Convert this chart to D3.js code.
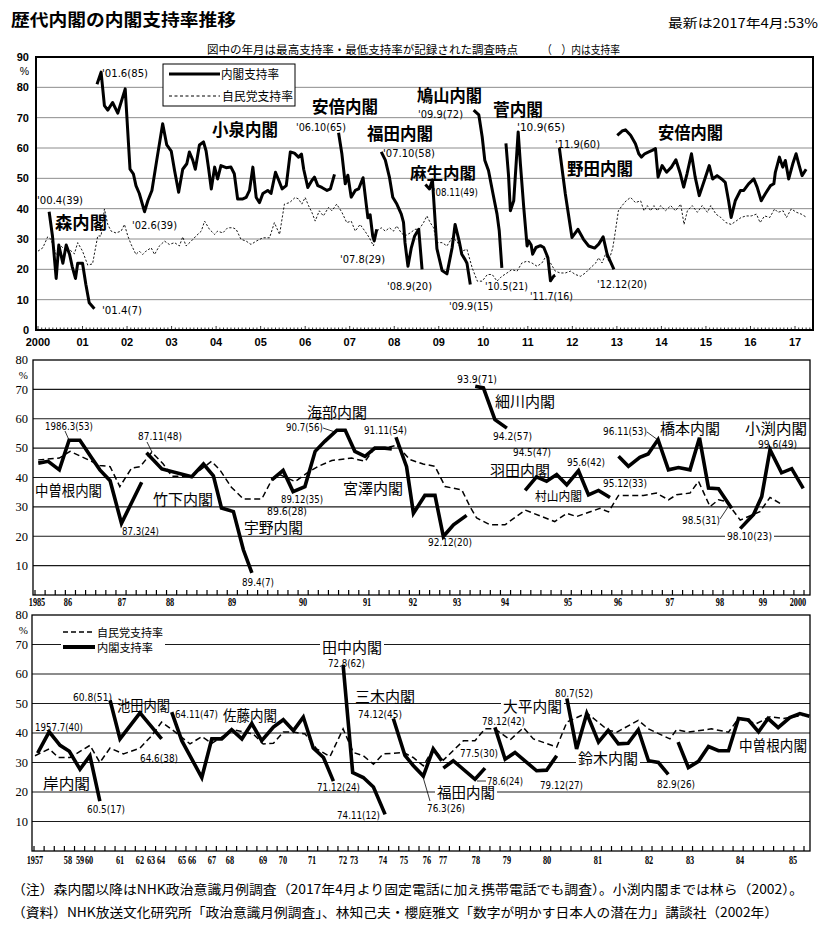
<!DOCTYPE html>
<html><head><meta charset="utf-8">
<script src="https://cdn.jsdelivr.net/npm/d3@7"></script>
<style>body{margin:0;background:#fff}</style>
</head><body>
<svg id="c" width="832" height="925"></svg>
<script>
// ================= DATA =================
// --- Top panel (2000-2017), x = months since Jan 2000, y = support %
const topYearLabels = ["2000","01","02","03","04","05","06","07","08","09","10","11","12","13","14","15","16","17"];
const topYTicks = [0,10,20,30,40,50,60,70,80,90];
const mori = [[3,39],[3.9,31],[4.9,17],[5.6,28],[6.7,22],[7.6,28],[8.5,25],[9.2,21],[10.1,17],[10.7,22],[12,22],[12.9,15],[13.8,9],[15.2,7]];
const koizumi = [[15.9,81],[17,85],[17.9,74],[18.8,72.5],[20.1,75],[21.5,71.5],[23.5,79.5],[24.8,53],[25.7,51.5],[26.4,47.6],[27.3,45],[28.7,39],[29.6,42.6],[30.7,46],[32,56],[33.6,68],[34.7,61],[35.9,59],[36.8,52.6],[37.9,45.4],[39,53],[40.1,54.8],[40.8,58.7],[41.7,56],[42.4,53],[43.5,61],[44.6,62],[45.3,59],[46,53],[46.7,46.5],[47.6,53.7],[48.4,49.8],[49.3,54.2],[50.7,53.5],[52,53.7],[52.9,51.5],[53.8,43.2],[55.2,43.2],[56.1,43.7],[57,46],[57.9,53.7],[58.8,43.7],[59.7,42],[60.6,45],[61.9,46],[62.8,45],[64,52],[64.9,49.3],[65.8,46.5],[66.9,47.6],[68,58.7],[69.1,58.3],[70.2,57],[71,58],[71.6,53],[72.7,47],[73.8,49.3],[74.5,50.4],[75.4,47.6],[76.5,47],[77.9,46],[78.8,46.5],[79.9,51.3]];
const abe1 = [[81,65],[81.9,58],[82.8,48.2],[83.5,51],[84.4,43.8],[85.5,46],[86.4,46.5],[87.6,50.2],[88.4,42],[88.9,37],[89.5,38],[90.2,31],[90.6,29.4],[91.3,33.2]];
const fukuda = [[92.5,58.7],[93.6,56],[94.7,50.4],[95.6,43.8],[96.7,41.5],[97.9,38.2],[98.5,35.5],[98.9,28.8],[99.7,21],[100.6,27.1],[101.5,31],[102.6,33.2],[103.5,20]];
const aso = [[104.4,48],[105.5,46.5],[106.3,49.5],[107.5,26.8],[108.9,19.6],[110.2,18.5],[111.6,27.1],[112.4,34.8],[113.5,29.3],[114.2,25],[115.1,23.2],[115.6,22],[116.5,15]];
const hatoyama = [[117.4,72.5],[118.8,70.9],[119.7,63.7],[120.4,56],[121.4,52.6],[122.6,45],[123.7,38.2],[124.3,32.7],[125,20.5]];
const kan = [[126.1,61.5],[126.8,51],[127.3,39.3],[128.2,42.6],[129.4,65.3],[130,54.8],[130.9,40.4],[131.8,27.7],[132.2,29.4],[132.9,28],[133.3,25],[134.2,27.2],[135.4,27.8],[136.3,27.2],[137.4,23.9],[138.1,16.2],[139,17.8],[139.4,18]];
const noda = [[140.5,60],[142.1,44.9],[143.9,30.5],[145.5,33.2],[147,29.9],[148.4,27.7],[150,27],[151.1,28.3],[152.3,30.7],[153.4,24.9],[155.2,20]];
const abe2 = [[156.1,64.2],[157.4,65.6],[158.3,66],[159.7,64.2],[161,61.4],[161.9,58.1],[162.6,57],[163.5,58.1],[164.6,58.7],[165.5,59.2],[166.4,59.8],[167.1,50.4],[168.2,54.2],[169.4,52],[170.7,53.7],[171.9,56.1],[173.1,51.5],[174,47.1],[174.9,51.5],[176.1,58.1],[177.1,50.4],[178.2,44.3],[179.7,49.8],[180.9,54.2],[181.8,49.8],[183,50.9],[184.2,49.8],[185.2,48.7],[186.1,42.6],[186.8,37.1],[187.9,42.6],[189.3,46],[190.2,46],[191.5,48.2],[192.9,49.8],[193.8,47.1],[194.9,42.6],[196,44.9],[197.4,47.6],[198.3,48.2],[198.7,52],[199.8,57],[200.7,53.7],[201.4,55.9],[202.3,49.8],[203.4,54.8],[204.3,58.1],[205,54.8],[205.9,50.9],[207,53]];
const ldpTop = [[0,26],[1.3,27.1],[2.6,30.7],[3.5,29.9],[4.9,24.9],[6.2,27.7],[7.6,26],[8.4,26.6],[9.8,25.1],[10.7,28.8],[12,26],[13.4,21.4],[14.7,21.8],[16.1,31],[17,31],[17.9,39.9],[18.8,34.8],[19.7,32.6],[21,32],[22.4,32.6],[23.3,34.8],[24.2,31],[25.1,28.2],[26.4,24.9],[27.3,26],[28.2,24.9],[29.1,26],[30.5,27.1],[31.4,24.9],[32.7,27.7],[34.1,29.3],[35.4,28.2],[36.8,28.8],[38.1,27.7],[39,30.7],[39.9,27.7],[41.3,29.3],[42.6,31],[44,32.6],[44.9,35.9],[46.2,33.2],[47.6,31.5],[48.4,32.6],[49.8,32],[51.1,33.7],[52.5,33.7],[53.4,33.2],[54.7,29.9],[56.1,29.3],[57.4,28.2],[58.8,29.3],[60.6,30.4],[62.4,30.4],[63.7,35.4],[65.1,31.5],[66.4,41.5],[67.8,42],[69.3,43.7],[70.2,43.2],[71.1,41.5],[72,43.7],[72.9,41],[73.8,38.8],[74.7,35.9],[75.8,39.3],[76.9,37.6],[78.3,40.4],[79.2,39.3],[80.5,41.5],[81.9,38.8],[83.2,35.4],[84.4,35.9],[85.5,32.6],[86.8,34.8],[88.1,32.6],[89.3,30.4],[90.4,27.7],[91.3,32.6],[92.5,33.7],[93.6,32.6],[94.7,33.7],[95.8,32.6],[96.7,34.3],[97.9,32],[98.9,31],[100.3,32],[101.6,33.2],[102.7,33.2],[103.9,35.4],[104.8,37.6],[105.7,35.4],[106.6,33.7],[107.5,28.8],[108.9,28.8],[110.2,27.7],[111.6,30.4],[112.9,29.3],[114.2,26],[115.6,26.6],[117,20.5],[118.4,16.1],[119.7,16.1],[121.1,18.3],[122.4,18.3],[123.7,16.1],[125,17.7],[126.4,18.8],[127.7,19.9],[129.1,19.4],[130.4,22.1],[131.8,22.7],[133.1,22.1],[134.5,21],[135.8,22.1],[136.9,24.3],[138.1,22.1],[139.4,19.4],[140.7,18.8],[142.1,18.8],[143.5,19.4],[144.8,18.3],[146.2,17.7],[147.5,18.8],[148.9,20.5],[150.3,22.1],[151.1,23.8],[152,22.1],[152.9,24.9],[153.8,22.7],[154.9,27.1],[155.6,32.6],[156.4,39.3],[157.4,41],[158.5,42.6],[159.7,43.7],[161,42],[162.4,42.6],[163.3,39.3],[164.2,41],[165.1,39.3],[166,41],[166.9,39.3],[167.8,41],[169.1,39.3],[170.5,41],[171.8,39.3],[173.2,41.5],[174.1,34.8],[175,39.3],[176.3,41],[177.7,38.8],[179,41],[180.4,38.8],[181.3,41],[182.7,38.2],[184,37.1],[185.4,35.4],[186.8,34.8],[188.1,35.9],[189.5,37.1],[190.8,37.6],[192.2,37.6],[193.6,38.2],[194.6,35.4],[195.8,37.6],[197.2,37.1],[198.5,39.9],[199.4,38.8],[200.8,39.3],[201.7,37.1],[203,39.9],[204.4,38.8],[205.7,38.2],[206.9,37.3]];

// --- Middle panel (1985-2000), x = year (decimal), y = %
const midYears = [1985,1986,1987,1988,1989,1990,1991,1992,1993,1994,1995,1996,1997,1998,1999,2000];
const midYearLabels = ["1985","86","87","88","89","90","91","92","93","94","95","96","97","98","99","2000"];
const panelYTicks = [10,20,30,40,50,60,70,80];
const nakasoneM = [[1985.04,44.9],[1985.36,45.5],[1985.72,42.6],[1986.02,52.7],[1986.22,52.7],[1986.44,46.6],[1986.59,42.6],[1986.78,38.9],[1986.99,24.4],[1987.41,38.4]];
const takeshita = [[1987.51,48.4],[1987.83,42.9],[1988.35,40.3],[1988.54,44.6],[1988.70,40.6],[1988.83,29.6],[1989.02,28.4],[1989.16,15.4],[1989.28,7.5]];
const unoKaifu = [[1989.56,39.2],[1989.72,42.4],[1989.86,35.2],[1990.03,36.9],[1990.19,48.9],[1990.34,52.3],[1990.53,56.1],[1990.66,56.1],[1990.81,48.9],[1990.97,47.2],[1991.17,50],[1991.39,50],[1991.54,49.7]];
const miyazawa = [[1991.63,53.7],[1991.86,43.7],[1992.01,27.8],[1992.27,33.9],[1992.50,33.9],[1992.69,19.9],[1992.92,23.9],[1993.20,27.1]];
const hosokawa = [[1993.38,71.1],[1993.55,70.5],[1993.79,59.7],[1994.03,56.8]];
const hataMurayama = [[1994.32,35.6],[1994.50,40.2],[1994.66,38.7],[1994.82,41],[1994.98,37.5],[1995.21,42.3],[1995.41,34.1],[1995.61,35.6],[1995.84,33.2]];
const hashimoto = [[1996.01,47.2],[1996.20,43.8],[1996.42,46.9],[1996.58,48],[1996.77,52.9],[1996.97,42.6],[1997.17,43.4],[1997.40,42.6],[1997.59,53.5],[1997.77,36.4],[1997.97,36.2],[1998.27,29.5]];
const obuchi = [[1998.47,22.6],[1998.78,27.4],[1998.97,33.5],[1999.20,49.5],[1999.53,41.6],[1999.82,43],[2000.15,36.3]];
const ldpMid = [[1985.04,46],[1985.72,46.6],[1986.04,48.9],[1986.38,46],[1986.59,44.1],[1986.78,43.7],[1986.96,36.9],[1987.2,43.2],[1987.38,43.7],[1987.62,48.6],[1987.86,44.6],[1988.03,40.4],[1988.35,40.4],[1988.67,45.5],[1988.81,42.4],[1988.99,36.7],[1989.16,32.7],[1989.42,32.7],[1989.56,39.2],[1989.68,40.9],[1989.89,38.6],[1990.06,41.5],[1990.24,43.8],[1990.45,45.8],[1990.76,46.6],[1990.97,45.5],[1991.14,49.5],[1991.43,50.1],[1991.65,51],[1991.93,46.1],[1992.23,44.6],[1992.50,43.8],[1992.73,36.9],[1993.10,35.8],[1993.27,30.1],[1993.41,26.2],[1993.69,23.9],[1994.0,23.9],[1994.32,28.9],[1994.79,25],[1994.98,27.8],[1995.17,26.7],[1995.64,29.5],[1995.81,28.3],[1996.01,33.9],[1996.49,33.9],[1996.74,34.7],[1996.97,32.4],[1997.13,34.1],[1997.40,34.7],[1997.57,38.7],[1997.8,30.1],[1997.97,32.4],[1998.15,31.8],[1998.47,25.5],[1998.93,28.4],[1999.20,33.2],[1999.49,31.2]];

// --- Bottom panel (1957-1985)
const botYears = [1957,1958,1959,1960,1961,1962,1963,1964,1965,1966,1967,1968,1969,1970,1971,1972,1973,1974,1975,1976,1977,1978,1979,1980,1981,1982,1983,1984,1985];
const botYearLabels = ["1957","58","59","60","61","62","63","64","65","66","67","68","69","70","71","72","73","74","75","76","77","78","79","80","81","82","83","84","85"];
const kishi = [[1957.08,33.2],[1957.43,40.4],[1957.76,35.8],[1958.11,33.8],[1959.0,27.7],[1960.03,32.3],[1960.35,16.9]];
const ikeda = [[1960.68,51.1],[1961.0,38],[1962.0,46.8],[1964.03,38]];
const sato = [[1964.51,47.1],[1964.99,37.4],[1966.49,24.9],[1966.99,38],[1967.54,38],[1968.05,41.1],[1968.36,38],[1968.66,43.2],[1968.96,37.4],[1969.52,42],[1970.01,44.5],[1970.36,40.8],[1970.70,45.4],[1971.04,34.9],[1971.37,31.7],[1971.69,23.7]];
const tanaka = [[1972.01,63.1],[1972.88,26.6],[1973.32,24.9],[1973.67,21.7],[1974.10,12.4]];
const miki = [[1974.49,44.9],[1975.04,32.4],[1975.40,29],[1975.84,25.4],[1976.39,34.6],[1976.92,30.6]];
const fukudaT = [[1977.01,28.1],[1977.31,30.6],[1977.97,24.3],[1978.29,28.1]];
const ohira = [[1978.61,41.9],[1978.94,31.1],[1979.2,33.4],[1979.74,27.2],[1979.99,27.4],[1980.19,32.3]];
const suzuki = [[1980.39,51.7],[1980.58,34.6],[1980.78,46.6],[1981.01,36.9],[1981.2,40.9],[1981.40,36.3],[1981.59,36.5],[1981.79,41.1],[1981.99,30.6],[1982.23,30],[1982.47,26]];
const nakasoneB = [[1982.71,36.9],[1982.96,28.3],[1983.17,30.4],[1983.37,35.4],[1983.57,34],[1983.77,34],[1983.97,44.9],[1984.16,44.4],[1984.35,40.4],[1984.53,44.9],[1984.72,41.8],[1984.94,45.2],[1985.13,46.6],[1985.31,45.7]];
const ldpBot = [[1957.0,32.3],[1957.43,34.6],[1957.71,31.7],[1958.17,31.7],[1960.03,35.8],[1960.35,30],[1960.68,34.9],[1961.17,32.9],[1962.0,34.9],[1963.07,39.1],[1964.03,43.7],[1964.59,40.8],[1965.8,36.3],[1966.49,38.8],[1966.99,36.5],[1967.54,38.6],[1968.10,41.1],[1968.70,39.7],[1969.01,36.3],[1969.52,36.5],[1970.01,40.3],[1970.36,40.3],[1970.76,39.7],[1971.15,34.6],[1971.58,32],[1972.01,41.4],[1972.94,33.4],[1973.32,32.3],[1973.67,29.4],[1974.01,32.9],[1974.97,33.4],[1975.40,31.7],[1975.84,28.9],[1976.39,34.6],[1977.01,30.8],[1977.62,37.4],[1977.97,37.4],[1978.29,41.4],[1978.61,41.4],[1979.08,37.7],[1979.41,41.8],[1979.66,38],[1980.19,35.2],[1980.39,43.7],[1980.78,46.8],[1981.2,40.9],[1981.37,40.3],[1981.79,44.3],[1981.99,41.4],[1982.51,38],[1982.67,41.1],[1982.96,40.3],[1983.43,41.4],[1983.77,40.3],[1983.97,44.9],[1984.31,43.2],[1984.57,45.5],[1984.82,44.9],[1985.19,46]];

// ================= LAYOUT / STYLE =================
const JP = '"Noto Sans CJK JP","Noto Sans",sans-serif';
const NARROW = '"Liberation Sans Narrow","DejaVu Sans Condensed","Liberation Sans",sans-serif';
const SANS = '"Liberation Sans","DejaVu Sans",sans-serif';
const SERIF = '"Liberation Serif","DejaVu Serif",serif';
const svg = d3.select("#c");

function txt(g, s, x, y, o) {
  o = o || {};
  const t = g.append("text").attr("x", x).attr("y", y).text(s)
    .attr("font-family", o.font || JP).attr("font-size", o.size || 12)
    .attr("font-weight", o.weight || "normal").attr("fill", "#000");
  if (o.anchor) t.attr("text-anchor", o.anchor);
  if (o.w) t.attr("textLength", o.w).attr("lengthAdjust", "spacingAndGlyphs");
  if (o.bg) {
    const b = t.node().getBBox();
    g.insert("rect", () => t.node()).attr("x", b.x - 2).attr("y", b.y + 1)
      .attr("width", b.width + 4).attr("height", b.height - 2).attr("fill", "#fff");
  }
  return t;
}

// ---------- Header ----------
txt(svg, "歴代内閣の内閣支持率推移", 11, 26, {size: 17, weight: "bold", w: 225});
txt(svg, "最新は2017年4月:53%", 818, 28, {size: 12.5, anchor: "end", w: 150});
txt(svg, "図中の年月は最高支持率・最低支持率が記録された調査時点", 207, 54, {size: 11.5, w: 311});
txt(svg, "（　）内は支持率", 542, 54, {size: 11.5, w: 78});

// ---------- Top panel ----------
const T = {l: 36, r: 813, t: 57, b: 330};
const xT = d3.scaleLinear().domain([0, 204]).range([38, 795]);
const yT = d3.scaleLinear().domain([0, 90]).range([T.b, T.t]);
const gT = svg.append("g");
gT.selectAll("line.grid").data(topYTicks.filter(v => v > 0 && v < 90)).join("line")
  .attr("x1", T.l).attr("x2", T.r).attr("y1", d => yT(d)).attr("y2", d => yT(d))
  .attr("stroke", "#8c8c8c").attr("stroke-width", 1);
gT.selectAll("line.mt").data(d3.range(0, 209)).join("line")
  .attr("x1", d => xT(d)).attr("x2", d => xT(d)).attr("y1", T.b).attr("y2", d => T.b - (d % 12 === 0 ? 4 : 2.5))
  .attr("stroke", "#000").attr("stroke-width", 0.8);
gT.selectAll("text.yl").data(topYTicks).join("text")
  .attr("x", 29).attr("y", d => yT(d)).attr("dy", "0.36em").attr("text-anchor", "end")
  .attr("font-family", SANS).attr("font-weight", "bold").attr("font-size", 11).text(d => d);
txt(gT, "%", 29, 75, {font: SANS, size: 10.5, anchor: "end"});
gT.selectAll("text.xl").data(topYearLabels).join("text")
  .attr("x", (d, i) => xT(i * 12)).attr("y", 346).attr("text-anchor", "middle")
  .attr("font-family", SANS).attr("font-weight", "bold").attr("font-size", 11).text(d => d);

// legend
gT.append("rect").attr("x", 163).attr("y", 64).attr("width", 132).attr("height", 42)
  .attr("fill", "#fff").attr("stroke", "#000").attr("stroke-width", 1);
gT.append("line").attr("x1", 169).attr("x2", 220).attr("y1", 74).attr("y2", 74).attr("stroke", "#000").attr("stroke-width", 3);
gT.append("line").attr("x1", 169).attr("x2", 220).attr("y1", 96).attr("y2", 96).attr("stroke", "#000").attr("stroke-width", 1).attr("stroke-dasharray", "3,2.5");
txt(gT, "内閣支持率", 221, 79, {size: 12, w: 58});
txt(gT, "自民党支持率", 222, 101, {size: 12, w: 71});

const topNotes = [["'00.4(39)",37,204,46],["'01.6(85)",102,77,46],["'02.6(39)",132,229,45],["'01.4(7)",102,314,40],
  ["'06.10(65)",296,131,50],["'07.10(58)",383,157,52],["'07.8(29)",340,263,45],["'08.9(20)",387,290,45],
  ["'08.11(49)",433,196,45],["'09.9(72)",418,118,45],["'09.9(15)",449,310,44],["'10.9(65)",517,131,48],
  ["'10.5(21)",485,290,43],["'11.7(16)",530,300,43],["'11.9(60)",555,148,45],["'12.12(20)",597,288,50]];
topNotes.forEach(d => txt(gT, d[0], d[1], d[2], {font: NARROW, size: 11, w: d[3]}));
const topNames = [["森内閣",55,229,52,17],["小泉内閣",212,136,66,17],["安倍内閣",312,113,66,17],["福田内閣",367,140,66,17],
  ["麻生内閣",410,178.5,66,16],["鳩山内閣",417,102,65,17],["菅内閣",493,116,50,17],["野田内閣",567,175,66,17],["安倍内閣",658,139,65,17]];
topNames.forEach(d => txt(gT, d[0], d[1], d[2], {size: d[4], weight: "bold", w: d[3]}));

const lineT = d3.line().x(d => xT(d[0])).y(d => yT(d[1]));
gT.append("path").attr("d", lineT(ldpTop)).attr("fill", "none").attr("stroke", "#000")
  .attr("stroke-width", 0.9).attr("stroke-dasharray", "2.2,1.8");
[mori, koizumi, abe1, fukuda, aso, hatoyama, kan, noda, abe2].forEach(s =>
  gT.append("path").attr("d", lineT(s)).attr("fill", "none").attr("stroke", "#000")
    .attr("stroke-width", 3).attr("stroke-linejoin", "round"));
gT.append("rect").attr("x", T.l).attr("y", T.t).attr("width", T.r - T.l).attr("height", T.b - T.t)
  .attr("fill", "none").attr("stroke", "#000").attr("stroke-width", 2);

// ---------- generic scanned panel ----------
function panel(P, years, yearLabels, posRange, nTicks, cabinets, ldp, notes, names, leaders, tickY) {
  const g = svg.append("g");
  const x = d3.scaleLinear().domain(years).range(posRange);
  const y = d3.scaleLinear().domain([0, 80]).range([P.b, P.t]);
  g.selectAll("line.grid").data(panelYTicks.filter(v => v < 80)).join("line")
    .attr("x1", P.l).attr("x2", P.r).attr("y1", d => y(d)).attr("y2", d => y(d))
    .attr("stroke", "#1a1a1a").attr("stroke-width", 1.1);
  const tk = d3.scaleLinear().domain([0, nTicks]).range([P.l + 2, P.r - 6]);
  g.selectAll("line.tk").data(d3.range(0, nTicks + 1)).join("line")
    .attr("x1", d => tk(d)).attr("x2", d => tk(d)).attr("y1", P.b).attr("y2", P.b - 5)
    .attr("stroke", "#000").attr("stroke-width", 1.2);
  g.selectAll("text.yl").data(panelYTicks).join("text")
    .attr("x", 28).attr("y", d => y(d)).attr("dy", "0.34em").attr("text-anchor", "end")
    .attr("font-family", SERIF).attr("font-size", 12.5).text(d => d);
  txt(g, "%", 28, P.t + 19, {font: SERIF, size: 11, anchor: "end"});
  g.selectAll("text.xl").data(yearLabels).join("text")
    .attr("x", (d, i) => x(years[i])).attr("y", tickY).attr("text-anchor", "middle")
    .attr("font-family", SERIF).attr("font-weight", "bold").attr("font-size", 12.5)
    .attr("transform", (d, i) => `translate(${x(years[i])},0) scale(0.66,1) translate(${-x(years[i])},0)`)
    .text(d => d);
  names.forEach(d => txt(g, d[0], d[1], d[2], {size: d[4], w: d[3], bg: d[5]}));
  notes.forEach(d => txt(g, d[0], d[1], d[2], {font: NARROW, size: 10.5, w: d[3], bg: d[4]}));
  leaders.forEach(d => g.append("line").attr("x1", d[0]).attr("y1", d[1]).attr("x2", d[2]).attr("y2", d[3])
    .attr("stroke", "#000").attr("stroke-width", 0.8));
  const ln = d3.line().x(d => x(d[0])).y(d => y(d[1]));
  g.append("path").attr("d", ln(ldp)).attr("fill", "none").attr("stroke", "#000")
    .attr("stroke-width", 1.5).attr("stroke-dasharray", "6,3.5");
  cabinets.forEach(s => g.append("path").attr("d", ln(s)).attr("fill", "none").attr("stroke", "#000")
    .attr("stroke-width", 3.6).attr("stroke-linejoin", "miter"));
  g.append("rect").attr("x", P.l).attr("y", P.t).attr("width", P.r - P.l).attr("height", P.b - P.t)
    .attr("fill", "none").attr("stroke", "#000").attr("stroke-width", 1.3);
  return g;
}

// Middle
const midPos = [37,68,122,170,232,303,367,413,457,505,568,618,670,720,763,798];
panel({l: 33, r: 810, t: 360, b: 595}, midYears, midYearLabels, midPos, 76,
  [nakasoneM, takeshita, unoKaifu, miyazawa, hosokawa, hataMurayama, hashimoto, obuchi], ldpMid,
  [["1986.3(53)",45,430,48],["87.11(48)",138,440,44],["87.3(24)",122,535,37],["89.4(7)",242,586,32],
   ["89.12(35)",281,503,42],["89.6(28)",267,515,40],["90.7(56)",286,431,37],["91.11(54)",364,434,43],
   ["92.12(20)",428,546,44],["93.9(71)",457,383,40],["94.2(57)",493,440,39],["94.5(47)",513,456,38],
   ["95.6(42)",567,466,38],["95.12(33)",603,487,44],["96.11(53)",603,435,44],["98.5(31)",682,524,38],
   ["98.10(23)",727,540,45,true],["99.6(49)",758,448,39]],
  [["中曽根内閣",35,496,67,15],["竹下内閣",153,505,60,15],["宇野内閣",244,533,59,15],["海部内閣",307,418,60,15],
   ["宮澤内閣",343,494,60,15],["細川内閣",495,407,60,15],["羽田内閣",490,476,60,14.5],["村山内閣",535,501,47,12.5],
   ["橋本内閣",660,434,60,15],["小渕内閣",745,434,62,14.5]],
  [[65,431,69,440],[147,442,152,452],[323,428,335,432],[647,432,658,440],[720,519,728,507]], 606);

// Bottom
const botPos = [35,68,80,89,120,140,151,161,182,192,212,230,263,283,312,343,354,383,404,427,443,476,507,547,598,649,690,740,793];
const gB = panel({l: 32, r: 810, t: 615, b: 851}, botYears, botYearLabels, botPos, 76,
  [kishi, ikeda, sato, tanaka, miki, fukudaT, ohira, suzuki, nakasoneB], ldpBot,
  [["1957.7(40)",35,731,48],["60.5(17)",87,813,38],["60.8(51)",73,701,39],["64.6(38)",140,762,38],
   ["64.11(47)",175,718,43],["71.12(24)",317,791,43],["72.8(62)",328,667,37],["74.11(12)",337,819,43],
   ["74.12(45)",358,718,44],["76.3(26)",427,812,38],["77.5(30)",460,757,38],["78.6(24)",487,785,36],
   ["78.12(42)",482,725,43],["80.7(52)",555,697,38],["79.12(27)",540,789,43],["82.9(26)",657,788,38]],
  [["岸内閣",43,789,47,15],["池田内閣",117,711,53,14.5],["佐藤内閣",223,721,54,14.5],["田中内閣",322,653,60,14.5,true],
   ["三木内閣",355,702,60,15],["福田内閣",437,798,58,14.5,true],["大平内閣",503,712,59,15,true],
   ["鈴木内閣",578,764,60,15,true],["中曽根内閣",739,751,68,14.5]],
  [[430,801,423,777],[477,781,486,781]], 864);
// bottom legend (over the 70 gridline)
gB.append("rect").attr("x", 61).attr("y", 623).attr("width", 104).attr("height", 32).attr("fill", "#fff");
gB.append("line").attr("x1", 63).attr("x2", 95).attr("y1", 632).attr("y2", 632).attr("stroke", "#000").attr("stroke-width", 1.5).attr("stroke-dasharray", "5,3");
gB.append("line").attr("x1", 63).attr("x2", 95).attr("y1", 647).attr("y2", 647).attr("stroke", "#000").attr("stroke-width", 4);
txt(gB, "自民党支持率", 97, 637, {size: 11, w: 66});
txt(gB, "内閣支持率", 97, 652, {size: 11, w: 56});

// ---------- Footer ----------
txt(svg, "（注）森内閣以降はNHK政治意識月例調査（2017年4月より固定電話に加え携帯電話でも調査）。小渕内閣までは林ら（2002）。", 12, 894, {size: 13, w: 791});
txt(svg, "（資料）NHK放送文化研究所「政治意識月例調査」、林知己夫・櫻庭雅文「数字が明かす日本人の潜在力」講談社（2002年）", 12, 917, {size: 13, w: 766});
</script>
</body></html>
